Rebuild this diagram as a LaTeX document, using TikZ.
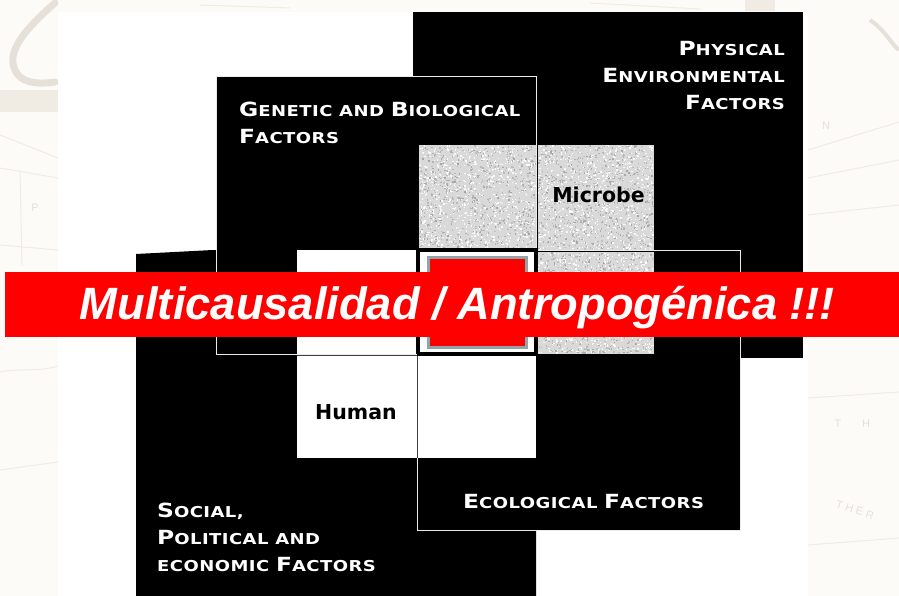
\documentclass[tikz,border=0pt]{standalone}
\usepackage{fontspec}
\setmainfont{Liberation Sans}
\newfontfamily\capsfont[LetterSpace=3,FakeStretch=1.2]{DejaVu Sans}
\newfontfamily\cellfont{DejaVu Sans}
\newcommand{\bigc}[1]{{\fontsize{19.5}{20}\selectfont #1}}
\definecolor{mapbg}{HTML}{FCFBF8}
\definecolor{mapink}{HTML}{F0ECE4}
\definecolor{mapdark}{HTML}{E6E1D8}
\definecolor{framegray}{HTML}{8FA5A8}
\definecolor{noise}{HTML}{D9D9D9}
\tikzset{
  panel/.style={fill=black,draw=none},
  outlined/.style={fill=black,draw=white!92!black,line width=1pt},
  whitecell/.style={fill=white,draw=none},
  graycell/.style={fill=noise,draw=none},
  divider/.style={draw=black!75,line width=0.7pt},
  factor/.style={text=white,font=\capsfont\bfseries\fontsize{15}{27}\selectfont,inner sep=0pt},
  cellname/.style={text=black,font=\cellfont\bfseries\fontsize{20.5}{22}\selectfont,inner sep=0pt},
  mapline/.style={draw=mapink,line width=1pt},
  maptext/.style={text=mapdark,font=\fontsize{11}{12}\selectfont,inner sep=0pt},
  banner/.style={fill=red,draw=none},
  bannertext/.style={text=white,font=\bfseries\itshape\fontsize{45.3}{50}\selectfont,inner sep=0pt}
}
\newcommand{\speckle}[4]{%
  \foreach \i in {1,...,700}{%
    \pgfmathsetmacro{\sx}{#1+rnd*(#3-#1-1.5)}%
    \pgfmathsetmacro{\sy}{#2+rnd*(#4-#2-1.5)}%
    \pgfmathsetmacro{\sg}{int(rnd*30+165)}%
    \definecolor{spk}{RGB}{\sg,\sg,\sg}%
    \fill[spk] (\sx,\sy) rectangle ++(1.4,1.4);
    \pgfmathsetmacro{\wx}{#1+rnd*(#3-#1-1.5)}%
    \pgfmathsetmacro{\wy}{#2+rnd*(#4-#2-1.5)}%
    \fill[white!85!noise] (\wx,\wy) rectangle ++(1.4,1.4);
  }}
\begin{document}
\begin{tikzpicture}[x=1pt,y=-1pt]
\pgfmathsetseed{4242}
\useasboundingbox (0,0) rectangle (899,596);
% map backdrop
\fill[mapbg] (0,0) rectangle (899,596);
\draw[mapdark,line width=7pt,line cap=round] (55,3) .. controls (30,25) and (5,50) .. (15,70) .. controls (20,82) and (35,85) .. (55,82);
\fill[mapink] (0,90) rectangle (58,112);
\draw[mapline] (0,135) -- (58,158);
\draw[mapline] (0,168) -- (58,178);
\draw[mapline] (0,245) -- (58,250);
\draw[mapline] (20,170) -- (22,265);
\node[maptext] (mapa) at (35,208) {P};
\draw[mapline] (0,372) .. controls (20,368) and (40,372) .. (58,366);
\draw[mapline] (0,470) -- (58,462);
\draw[mapline] (808,150) -- (899,122);
\draw[mapline] (808,178) -- (899,160);
\draw[mapline] (808,215) -- (899,205);
\draw[mapline] (808,398) -- (899,392);
\draw[mapline] (808,545) -- (899,538);
\draw[mapdark,line width=4pt] (870,20) .. controls (885,30) and (892,45) .. (899,50);
\node[maptext] (mapb) at (826,126) {N};
\node[maptext] (mapc) at (838,424) {T};
\node[maptext] (mapd) at (866,424) {H};
\node[maptext,rotate=-18] (mape) at (855,510) {T H E R};
\draw[mapline] (200,5) -- (290,8);
\draw[mapline] (590,3) -- (700,9);
\fill[mapink] (745,0) rectangle (775,11);
% white sheet
\fill[white] (58,12) rectangle (808,596);
% panels
\fill[panel] (413,12) rectangle (803,358);
\fill[panel] (136,254) -- (213,250) -- (536,250) -- (536,596) -- (136,596) -- cycle;
\draw[outlined] (216,77) rectangle (536,354);
\draw[outlined] (417,250) rectangle (740,530);
% cells
\fill[graycell] (419,145) rectangle (536,250);
\fill[graycell] (538,145) rectangle (654,250);
\fill[graycell] (538,252) rectangle (654,354);
\speckle{419}{145}{536}{250}
\speckle{538}{145}{654}{250}
\speckle{538}{252}{654}{354}
\fill[whitecell] (297,250) rectangle (416,354);
\fill[whitecell] (297,355) rectangle (536,458);
\draw[divider] (297,355) -- (536,355);
\draw[divider] (417,355) -- (417,458);
\fill[black] (416.5,248) rectangle (538,356);
\fill[whitecell] (420,252) rectangle (534,352);
\fill[framegray] (427,256) rectangle (528,349);
\fill[red] (430,259) rectangle (525,346);
% labels
\node[factor,align=right,anchor=north east] (phys) at (785,41) {\bigc{P}HYSICAL\\\bigc{E}NVIRONMENTAL\\\bigc{F}ACTORS};
\node[factor,align=left,anchor=north west] (gen) at (239,102) {\bigc{G}ENETIC AND \bigc{B}IOLOGICAL\\\bigc{F}ACTORS};
\node[factor,align=left,anchor=north west] (soc) at (157,503) {\bigc{S}OCIAL,\\\bigc{P}OLITICAL AND\\ECONOMIC \bigc{F}ACTORS};
\node[factor,anchor=west] (eco) at (463,501) {\bigc{E}COLOGICAL \bigc{F}ACTORS};
\node[cellname] (mic) at (598.5,195) {Microbe};
\node[cellname] (hum) at (356,412) {Human};
% banner
\fill[banner] (5,272) rectangle (899,337);
\node[bannertext] (ban) at (457.5,308) {Multicausalidad / Antropogénica !!!};
\end{tikzpicture}
\end{document}
